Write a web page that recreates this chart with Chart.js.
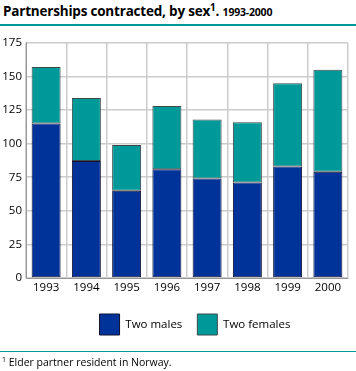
<!DOCTYPE html>
<html><head><meta charset="utf-8">
<script src="https://cdn.jsdelivr.net/npm/chart.js@4/dist/chart.umd.min.js"></script>
<style>
html,body{margin:0;padding:0;background:#fff;width:356px;height:371px;overflow:hidden;font-family:"Open Sans",sans-serif;}
#title{position:absolute;left:3px;top:2px;font-size:13.5px;font-weight:bold;color:#000;white-space:nowrap;letter-spacing:-0.2px}
#title sup{font-size:10px;line-height:0}
#title small{font-size:10.5px;}
#hr1{position:absolute;left:0;top:24px;width:356px;height:0;border-top:2px solid #009999;}
#hr2{position:absolute;left:0;top:351px;width:356px;height:0;border-top:1px solid #009999;}
#foot{position:absolute;left:2px;top:355px;font-size:10.5px;color:#000;white-space:nowrap}
#foot sup{font-size:7px;line-height:0}
#wrap{position:absolute;left:0;top:32px;width:356px;height:325px;}
</style></head><body>
<div id="title">Partnerships contracted, by sex<sup>1</sup>. <small>1993-2000</small></div>
<div id="hr1"></div>
<div id="wrap"><canvas id="c"></canvas></div>
<div id="hr2"></div>
<div id="foot"><sup>1</sup> Elder partner resident in Norway.</div>
<script>
const years = ["1993","1994","1995","1996","1997","1998","1999","2000"];
const twoMales = [115, 87, 65, 81, 74, 71, 83, 79];
const twoFemales = [42, 47, 34, 47, 44, 45, 62, 76];
const yTicks = [0,25,50,75,100,125,150,175];

const shiftLegend = {
  id:'shiftLegend',
  afterLayout(chart){ const l = chart.legend; if(l){ l.left += 21; l.right += 21; } }
};

new Chart(document.getElementById('c'), {
  type: 'bar',
  data: {
    labels: years,
    datasets: [
      {label:'Two males', data: twoMales, backgroundColor:'#003399', borderColor:'#101030', borderWidth:1, borderSkipped:false, barPercentage:0.72, categoryPercentage:1},
      {label:'Two females', data: twoFemales, backgroundColor:'#009999', borderColor:'#3a4a4a', borderWidth:1, borderSkipped:false, barPercentage:0.72, categoryPercentage:1}
    ]
  },
  plugins:[shiftLegend],
  options: {
    responsive:true, maintainAspectRatio:false, animation:false,
    layout:{padding:{left:0,right:8,top:8,bottom:12}},
    plugins:{
      tooltip:{enabled:false},
      legend:{position:'bottom', labels:{boxWidth:20, boxHeight:21, padding:15, color:'#000', font:{family:'Open Sans', size:11.5}}}
    },
    scales:{
      x:{stacked:true, offset:true,
         grid:{offset:true, color:'#cccccc', lineWidth:1.5, drawTicks:false},
         border:{color:'#999', width:1},
         ticks:{color:'#000', padding:3, font:{family:'Open Sans', size:11.5}, maxRotation:0},
         afterFit: a => { a.height = 21; }},
      y:{stacked:true, min:0, max:175,
         afterBuildTicks: a => { a.ticks = yTicks.map(v=>({value:v})); },
         grid:{color:'#cccccc', lineWidth:1.5, drawTicks:false},
         border:{color:'#999', width:1},
         ticks:{color:'#000', padding:4, font:{family:'Open Sans', size:11.5}},
         afterFit: a => { a.width = 26; }}
    }
  }
});
</script>
</body></html>
